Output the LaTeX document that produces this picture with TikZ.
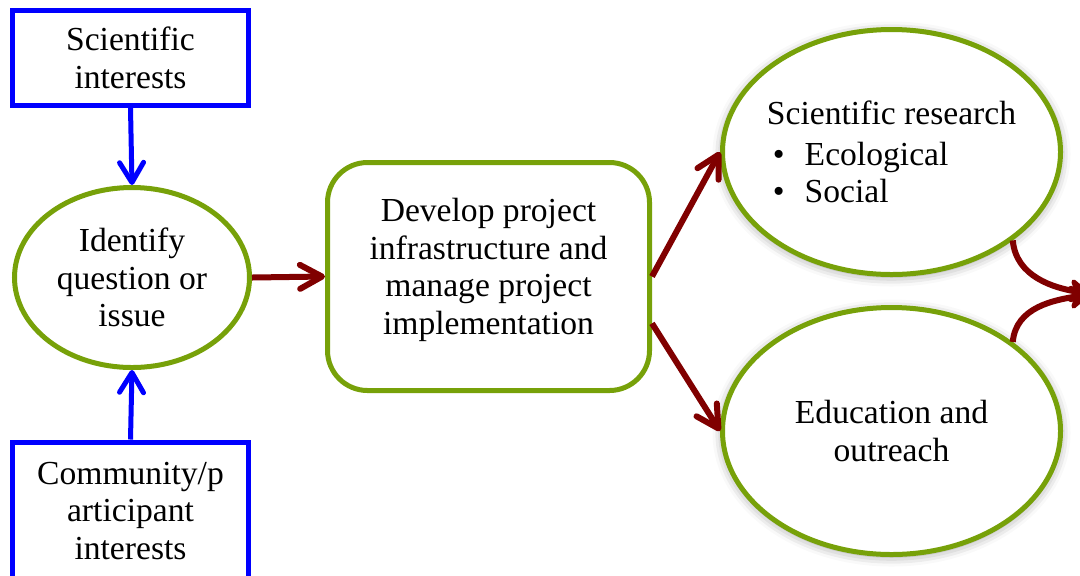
\documentclass[tikz,border=0pt]{standalone}
\usepackage{fontspec}
\setmainfont{Liberation Serif}
\usepackage{tikz}
\usetikzlibrary{arrows.meta}
\usetikzlibrary{shapes.geometric}
\usetikzlibrary{shadows.blur}
\definecolor{leafgreen}{RGB}{119,161,9}
\definecolor{boxblue}{RGB}{0,0,255}
\definecolor{darkred}{RGB}{128,0,0}
\tikzset{interest/.style = {draw=boxblue, line width=2.5pt, fill=white, align=center,
                            inner sep=0pt, minimum width=118pt},
         stage/.style = {draw=leafgreen, line width=2.5pt, fill=white, align=center, inner sep=0pt},
         glow/.style = {blur shadow={shadow xshift=0pt, shadow yshift=-1pt,
                                     shadow blur radius=5pt, shadow opacity=40}},
         bluearrow/.style = {draw=boxblue, line width=2.5pt,
                             -{Straight Barb[length=10pt, width=12pt, round]}},
         redarrow/.style = {draw=darkred, line width=3pt,
                            -{Straight Barb[length=11pt, width=12pt, round]}},
         mergearrow/.style = {draw=darkred, line width=3pt,
                              -{Stealth[length=13pt, width=15pt, inset=4pt, round]}}}

\begin{document}
\begin{tikzpicture}[x=0.5pt, y=-0.5pt, font=\fontsize{16.8}{18.75}\selectfont]
      \useasboundingbox (0,0) rectangle (1080,575);
      \clip (0,0) rectangle (1080,575);
      \node [interest, minimum height=47.5pt] (sciint) at (130.5,58) {Scientific\\interests};
      \node [interest, minimum height=69pt] (commint) at (130.5,511) {Community/p\\articipant\\interests};
      \node [stage, ellipse, minimum width=117.5pt, minimum height=90pt] (identify) at (132,277.5) {Identify\\question or\\issue};
      \node [stage, rounded corners=20pt, minimum width=161pt, minimum height=114pt, text depth=10pt] (develop) at (488.5,276.5) {Develop project\\infrastructure and\\manage project\\implementation};
      \node [stage, glow, ellipse, align=left, inner xsep=-4pt, minimum width=169pt, minimum height=122.5pt] (research) at (891.5,152) {Scientific research\\[1.5pt]\hspace*{3pt}\textbullet\hspace{10pt}Ecological\\\hspace*{3pt}\textbullet\hspace{10pt}Social};
      \node [stage, glow, ellipse, minimum width=169pt, minimum height=123.5pt] (outreach) at (891.5,431) {Education and\\outreach};
      \coordinate (merge) at (1090,294);
      \draw [bluearrow] (sciint.south) -- (identify.north);
      \draw [bluearrow] (commint.north) -- (identify.south);
      \draw [redarrow] (identify.east) -- (develop.west);
      \draw [redarrow] (develop.east) -- (research.west);
      \draw [redarrow] (develop.-16) -- (outreach.west);
      \draw [mergearrow] (research.south east) to[out=-85, in=170] (merge);
      \draw [mergearrow] (outreach.north east) to[out=85, in=190] (merge);
\end{tikzpicture}
\end{document}
